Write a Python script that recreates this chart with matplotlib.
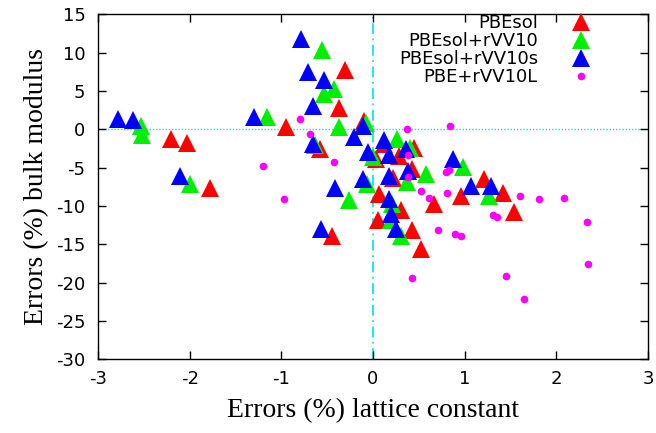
import matplotlib
matplotlib.use("Agg")
import matplotlib.pyplot as plt

plt.rcParams["axes.unicode_minus"] = False

# ── data: (lattice-constant error %, bulk-modulus error %) ─────────────────
pbesol_x = [-2.20, -2.03, -1.78, -0.95, -0.31, -0.37, -0.58, -0.45, -0.10,
            0.12, 0.45, 0.03, 0.28, 0.22, 0.42, 0.06, 0.31, 0.05, 0.43,
            0.52, 0.67, 0.96, 1.21, 1.42, 1.54]
pbesol_y = [-1.24, -1.79, -7.66, 0.28, 7.73, 2.78, -2.55, -13.9, 1.10,
            -1.90, -2.50, -3.85, -3.50, -6.30, -5.20, -8.40, -10.5, -11.8, -13.2,
            -15.6, -9.75, -8.75, -6.46, -8.30, -10.8]

rvv10_x = [-2.53, -2.52, -2.00, -1.16, -0.56, -0.43, -0.53, -0.37, -0.63,
           -0.26, -0.08, 0.26, 0.40, 0.00, -0.07, 0.37, 0.58, 0.21, 0.20,
           0.30, 0.98, 1.26]
rvv10_y = [0.39, -0.70, -7.16, 1.65, 10.4, 5.28, 4.54, 0.30, -2.00,
           -9.22, 0.76, -1.30, -2.50, -3.60, -7.10, -6.90, -5.85, -9.80, -11.8,
           -13.9, -4.87, -8.75]

rvv10s_x = [-2.78, -2.62, -2.11, -1.30, -0.79, -0.71, -0.53, -0.66, -0.66,
            -0.41, -0.57, -0.11, -0.21, 0.12, 0.36, -0.06, 0.17, 0.38, 0.17,
            -0.11, 0.17, 0.20, 0.25, 0.87, 1.07, 1.29]
rvv10s_y = [1.35, 1.15, -6.03, 1.65, 11.8, 7.52, 6.39, 3.04, -1.90,
            -7.63, -13.0, 0.39, -1.00, -1.46, -2.63, -3.00, -3.40, -5.42, -6.10,
            -6.50, -9.10, -11.1, -13.0, -3.85, -7.42, -7.42]

rvv10l_x = [-0.80, -0.69, -0.43, -1.20, -0.97, 0.37, 0.84, 0.38, 0.80, 0.83,
            0.38, 0.52, 0.61, 0.81, 0.71, 0.89, 0.96, 0.42, 1.31, 1.35,
            1.60, 1.81, 2.08, 2.33, 2.35, 1.45, 1.65]
rvv10l_y = [1.30, -0.60, -4.30, -4.83, -9.09, 0.00, 0.43, -3.35, -5.60, -5.30,
            -6.20, -8.05, -9.00, -8.27, -13.2, -13.7, -13.9, -19.4, -11.2, -11.5,
            -8.70, -9.05, -8.92, -12.1, -17.6, -19.2, -22.1]

labels = ["PBEsol", "PBEsol+rVV10", "PBEsol+rVV10s", "PBE+rVV10L"]

RED = "#ff0000"
GREEN = "#00ee00"
BLUE = "#0000ff"
MAGENTA = "#ff00ff"
CYAN = "#10e4f4"

fig = plt.figure(figsize=(6.56, 4.33), dpi=100)
ax = fig.add_axes([98 / 656, 1 - 359.3 / 433, 550 / 656, 345 / 433])

# zero lines
ax.axhline(0, color=CYAN, lw=1.0, ls=(0, (1, 1.3)), zorder=1)
ax.axvline(0, color=CYAN, lw=1.3, ls=(0, (6, 2.5, 1, 2.5)), zorder=1)

tri = dict(ls="none", marker="^", markersize=12.5, markeredgewidth=0, zorder=3)
ax.plot(pbesol_x, pbesol_y, color=RED, label=labels[0], **tri)
ax.plot(rvv10_x, rvv10_y, color=GREEN, label=labels[1], **tri)
ax.plot(rvv10s_x, rvv10s_y, color=BLUE, label=labels[2], **tri)
ax.plot(rvv10l_x, rvv10l_y, ls="none", marker="o", markersize=5.5,
        markeredgewidth=0, color=MAGENTA, label=labels[3], zorder=4)

ax.set_xlim(-3, 3)
ax.set_ylim(-30, 15)
ax.set_xticks(range(-3, 4))
ax.set_yticks(range(-30, 16, 5))

ax.tick_params(direction="in", length=6, width=1, top=True, right=True,
               labelsize=13)
ax.tick_params(axis="y", pad=9)
ax.tick_params(axis="x", pad=8)
for lbl in ax.get_xticklabels() + ax.get_yticklabels():
    lbl.set_family("DejaVu Sans")
for sp in ax.spines.values():
    sp.set_linewidth(1.0)

ax.set_xlabel("Errors (%) lattice constant", family="Liberation Serif",
              fontsize=20, labelpad=7)
ax.set_ylabel("Errors (%) bulk modulus", family="Liberation Serif",
              fontsize=20, labelpad=5)

ax.legend(loc="upper right", bbox_to_anchor=(0.8945, 1.0), frameon=False,
          markerfirst=False, borderpad=0, borderaxespad=0, labelspacing=0,
          handlelength=1.0, handletextpad=1.88,
          prop={"family": "DejaVu Sans", "size": 13})

fig.savefig("out.png", dpi=100)
